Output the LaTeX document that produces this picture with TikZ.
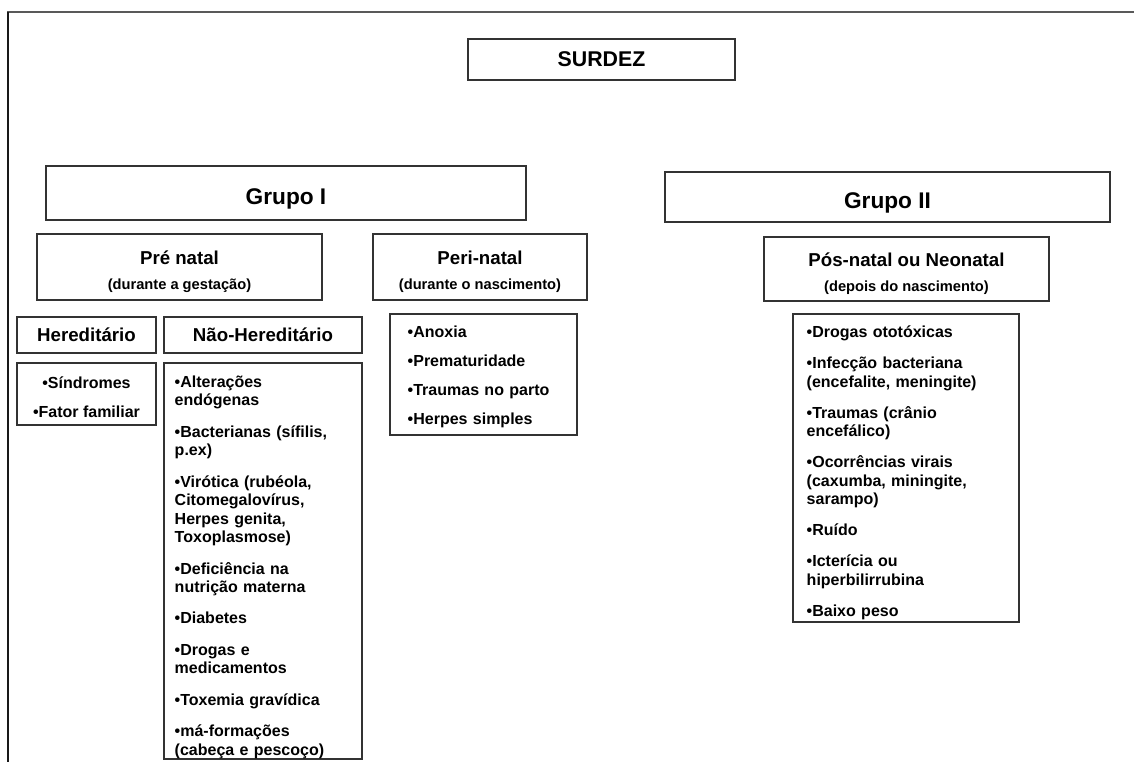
\documentclass[tikz,border=0pt]{standalone}
\usepackage{fontspec}
\setmainfont{Liberation Sans}
\usetikzlibrary{positioning}

\tikzset{
  box/.style={draw=black!80, line width=0.8pt, inner sep=0pt},
  title/.style={font=\bfseries\fontsize{16}{19}\selectfont},
  group/.style={font=\bfseries\fontsize{17}{19}\selectfont, text height=17.5pt, text depth=0pt},
  head/.style={font=\bfseries\fontsize{14}{18.5}\selectfont, align=center, inner sep=0pt},
  item/.style={font=\bfseries\fontsize{12}{13.9}\selectfont, align=left, inner sep=0pt, anchor=base west, text width=140pt},
}
\newcommand{\subhead}[1]{{\fontsize{11}{13}\selectfont #1}}

\begin{document}
\begin{tikzpicture}[x=0.75pt,y=-0.75pt]
  \useasboundingbox (0,0) rectangle (1134,762);
  % frame
  \draw[black!65, line width=1.5pt] (7,12) -- (1134,12);
  \draw[black!90, line width=1.1pt] (8,12) -- (8,762);

  \node[box, title, minimum width=200.25pt, minimum height=30.75pt] (surdez) at (601.5,59.5) {SURDEZ};

  \node[box, group, minimum width=360pt, minimum height=40.5pt] (grupoI) at (286,193) {Grupo I};
  \node[box, group, minimum width=333.75pt, minimum height=37.5pt] (grupoII) at (887.5,197) {Grupo II};

  \node[box, minimum width=213.75pt, minimum height=49.5pt] (prenatal) at (179.5,267) {};
  \node[head] (prenataltxt) at ([yshift=-3.5pt]prenatal.center)
    {Pré natal\\\subhead{(durante a gestação)}};
  \node[box, minimum width=160.5pt, minimum height=49.5pt] (perinatal) at (480,267) {};
  \node[head] (perinataltxt) at ([yshift=-3.5pt]perinatal.center)
    {Peri-natal\\\subhead{(durante o nascimento)}};
  \node[box, minimum width=213.75pt, minimum height=48pt] (posnatal) at (906.5,269) {};
  \node[head] (posnataltxt) at ([yshift=-3.5pt]posnatal.center)
    {Pós-natal ou Neonatal\\\subhead{(depois do nascimento)}};

  \node[box, head, minimum width=104.25pt, minimum height=27pt] (hered) at (86.5,335) {Hereditário};
  \node[box, head, minimum width=148.5pt, minimum height=27pt] (naohered) at (263,335) {Não-Hereditário};

  % lists
  \node[box, minimum width=104.25pt, minimum height=46.5pt] (heredlist) at (86.5,394) {};
  \node[font=\bfseries\fontsize{12}{13.9}\selectfont, align=center, inner sep=0pt] (heredtext)
    at ([yshift=-2.25pt]heredlist.center) {•Síndromes\\[7.9pt]•Fator familiar};

  \node[box, minimum width=148.5pt, minimum height=297pt] (naolist) at (263,561) {};
  \node[item] (naotext) at ([xshift=8.25pt, yshift=-18.75pt]naolist.north west)
    {•Alterações\\endógenas\\[9.6pt]
     •Bacterianas (sífilis,\\p.ex)\\[9.6pt]
     •Virótica (rubéola,\\Citomegalovírus,\\Herpes genita,\\Toxoplasmose)\\[9.6pt]
     •Deficiência na\\nutrição materna\\[9.6pt]
     •Diabetes\\[9.6pt]
     •Drogas e\\medicamentos\\[9.6pt]
     •Toxemia gravídica\\[9.6pt]
     •má-formações\\(cabeça e pescoço)};

  \node[box, minimum width=140.25pt, minimum height=90.75pt] (perilist) at (483.5,374.5) {};
  \node[item] (peritext) at ([xshift=13.5pt, yshift=-18pt]perilist.north west)
    {•Anoxia\\[7.9pt]
     •Prematuridade\\[7.9pt]
     •Traumas no parto\\[7.9pt]
     •Herpes simples};

  \node[box, minimum width=169.5pt, minimum height=231pt] (poslist) at (906,468) {};
  \node[item, text width=165pt] (postext) at ([xshift=10.5pt, yshift=-18pt]poslist.north west)
    {•Drogas ototóxicas\\[9.4pt]
     •Infecção bacteriana\\(encefalite, meningite)\\[9.4pt]
     •Traumas (crânio\\encefálico)\\[9.4pt]
     •Ocorrências virais\\(caxumba, miningite,\\sarampo)\\[9.4pt]
     •Ruído\\[9.4pt]
     •Icterícia ou\\hiperbilirrubina\\[9.4pt]
     •Baixo peso};
\end{tikzpicture}
\end{document}
